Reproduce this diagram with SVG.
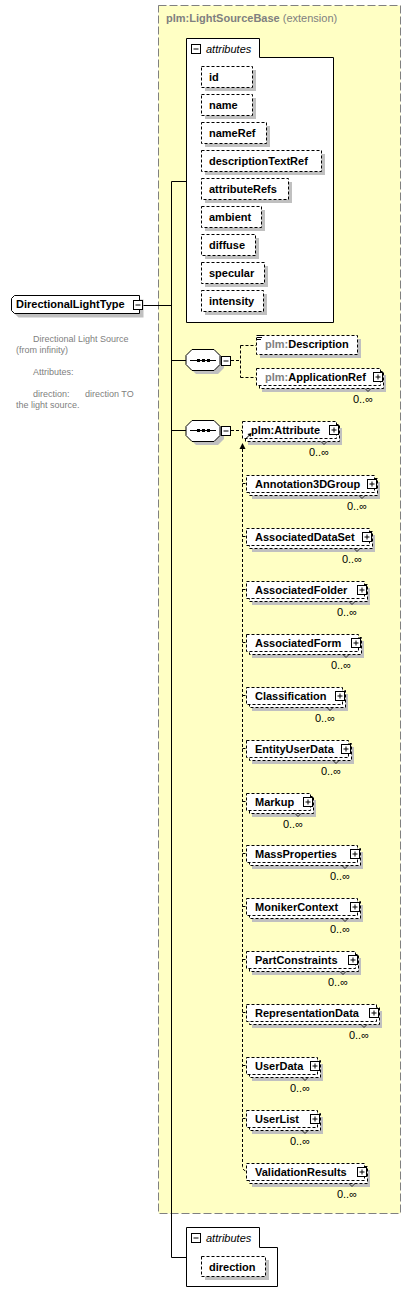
<svg xmlns="http://www.w3.org/2000/svg" width="411" height="1304" viewBox="0 0 411 1304">
<style>
.en{font-family:"Liberation Sans",Arial,sans-serif;font-size:11px;font-weight:bold;fill:#000}
.gr{fill:#808080}
.mu{font-family:"Liberation Sans",Arial,sans-serif;font-size:11px;fill:#000;text-anchor:end}
.doc{font-family:"Liberation Sans",Arial,sans-serif;font-size:9px;fill:#808080}
.it{font-family:"Liberation Sans",Arial,sans-serif;font-size:11px;font-style:italic;fill:#000}
.eb{fill:#fff;stroke:#000;stroke-width:1;stroke-dasharray:3 2}
.sh{fill:#c0c0c0}
.ic{fill:#fff;stroke:#000;stroke-width:1}
.icl{fill:none;stroke:#000;stroke-width:1}
.tk{fill:none;stroke:#000;stroke-width:0.8}
.ln{fill:none;stroke:#000;stroke-width:1}
.dl{fill:none;stroke:#000;stroke-width:1;stroke-dasharray:3 2}
.box{fill:#fff;stroke:#000;stroke-width:1}
</style>
<rect width="411" height="1304" fill="#fff"/>
<g id="extension">
<rect x="158.5" y="5.5" width="242" height="1208" fill="#ffffc4" stroke="#808080" stroke-width="1" stroke-dasharray="8 3"/>
<text x="166" y="22" class="en gr">plm:LightSourceBase <tspan font-weight="normal">(extension)</tspan></text>
</g>
<g id="connectors">
<path class="ln" d="M143 305.5H171.5M171.5 181.5V1257.5M171.5 181.5H186M171.5 360.5H186M171.5 430.5H186M171.5 1257.5H186"/>
<path class="dl" d="M231 360.5H240.5M240.5 345.5V377.5M240.5 345.5H256M240.5 377.5H256M231 430.5H242"/>
<path class="dl" d="M242.5 449V1166Q242.5 1171 247 1171"/>
<polygon points="242.5,443 239.5,449 245.5,449" fill="#000"/>
<path class="dl" d="M242.5 483.5H246M242.5 536.5H246M242.5 589.5H246M242.5 642.5H246M242.5 695.5H246M242.5 748.5H246M242.5 801.5H246M242.5 853.5H246M242.5 906.5H246M242.5 959.5H246M242.5 1012.5H246M242.5 1065.5H246M242.5 1118.5H246"/>
</g>
<g id="DirectionalLightType">
<path d="M18.5 299.5H143.5V317.5H18.5L15.5 314.5V302.5Z" class="sh"/>
<path d="M14.5 295.5H139.5V313.5H14.5L11.5 310.5V298.5Z" class="box"/>
<text x="16" y="308" class="en">DirectionalLightType</text>
<rect class="ic" x="133.5" y="300.5" width="9" height="9"/>
<path class="icl" d="M135.5 305h5"/>
<text class="doc" x="33" y="342">Directional Light Source</text>
<text class="doc" x="16" y="353">(from infinity)</text>
<text class="doc" x="33" y="375">Attributes:</text>
<text class="doc" x="33" y="397">direction:<tspan x="85">direction TO</tspan></text>
<text class="doc" x="16" y="408">the light source.</text>
</g>
<g id="attributes1">
<path class="box" d="M186.5 38.5H259.5V57.5H333.5V322.5H186.5Z"/>
<rect class="ic" x="191.5" y="44.5" width="9" height="9"/>
<path class="icl" d="M193.5 49h5"/>
<text class="it" x="206" y="53">attributes</text>
<rect class="sh" x="205" y="70" width="51" height="21"/><rect class="eb" x="201.5" y="66.5" width="51" height="21"/><text class="en" x="209" y="81">id</text>
<rect class="sh" x="205" y="98" width="51" height="21"/><rect class="eb" x="201.5" y="94.5" width="51" height="21"/><text class="en" x="209" y="109">name</text>
<rect class="sh" x="205" y="126" width="65" height="21"/><rect class="eb" x="201.5" y="122.5" width="65" height="21"/><text class="en" x="209" y="137">nameRef</text>
<rect class="sh" x="205" y="154" width="120" height="21"/><rect class="eb" x="201.5" y="150.5" width="120" height="21"/><text class="en" x="209" y="165">descriptionTextRef</text>
<rect class="sh" x="205" y="182" width="87" height="21"/><rect class="eb" x="201.5" y="178.5" width="87" height="21"/><text class="en" x="209" y="193">attributeRefs</text>
<rect class="sh" x="205" y="210" width="60" height="21"/><rect class="eb" x="201.5" y="206.5" width="60" height="21"/><text class="en" x="209" y="221">ambient</text>
<rect class="sh" x="205" y="238" width="54" height="21"/><rect class="eb" x="201.5" y="234.5" width="54" height="21"/><text class="en" x="209" y="249">diffuse</text>
<rect class="sh" x="205" y="266" width="63" height="21"/><rect class="eb" x="201.5" y="262.5" width="63" height="21"/><text class="en" x="209" y="277">specular</text>
<rect class="sh" x="205" y="294" width="62" height="21"/><rect class="eb" x="201.5" y="290.5" width="62" height="21"/><text class="en" x="209" y="305">intensity</text>
</g>
<g id="sequence1">
<polygon class="sh" points="196,353 218,353 224,359 224,368 218,374 196,374 190,368 190,359"/>
<polygon class="box" points="192,349.5 214,349.5 220,355.5 220,364.5 214,370.5 192,370.5 186,364.5 186,355.5"/>
<path class="ln" d="M190 360.5H216"/>
<rect x="197" y="359" width="3" height="3"/><rect x="202" y="359" width="3" height="3"/><rect x="207" y="359" width="3" height="3"/>
<rect class="ic" x="221.5" y="356.5" width="9" height="9"/>
<path class="icl" d="M223.5 361h5"/>
</g>
<g id="Description">
<rect class="sh" x="260" y="339" width="101" height="19"/>
<rect class="eb" x="256.5" y="335.5" width="101" height="19"/>
<path class="icl" d="M257 335.5h5M257 337.5h5M257 339.5h4"/>
<text class="en" x="265" y="348"><tspan class="gr">plm:</tspan>Description</text>
</g>
<g id="ApplicationRef">
<rect class="sh" x="262" y="375" width="124" height="17"/>
<rect class="eb" x="259.5" y="371.5" width="124" height="17"/>
<rect class="eb" x="256.5" y="368.5" width="124" height="17"/>
<rect class="ic" x="373.5" y="372.5" width="9" height="9"/>
<path class="icl" d="M375.5 377h5M378 374.5v5"/>
<path class="tk" d="M365 388.5l3 3l3 -3"/>
<text class="en" x="265" y="381"><tspan class="gr">plm:</tspan>ApplicationRef</text>
<text class="mu" x="373" y="403">0..∞</text>
</g>
<g id="sequence2">
<polygon class="sh" points="196,424 218,424 224,430 224,439 218,445 196,445 190,439 190,430"/>
<polygon class="box" points="192,420.5 214,420.5 220,426.5 220,435.5 214,441.5 192,441.5 186,435.5 186,426.5"/>
<path class="ln" d="M190 430.5H216"/>
<rect x="197" y="429" width="3" height="3"/><rect x="202" y="429" width="3" height="3"/><rect x="207" y="429" width="3" height="3"/>
<rect class="ic" x="221.5" y="426.5" width="9" height="9"/>
<path class="icl" d="M223.5 431h5"/>
</g>
<g id="Attribute">
<rect class="sh" x="248" y="428" width="94" height="17"/>
<rect class="eb" x="245.5" y="424.5" width="94" height="17"/>
<rect class="eb" x="242.5" y="421.5" width="94" height="17"/>
<rect class="ic" x="329.5" y="425.5" width="9" height="9"/>
<path class="icl" d="M331.5 430h5M334 427.5v5"/>
<path class="tk" d="M321 441.5l3 3l3 -3"/>
<path class="icl" d="M246 438.5L250 434.5"/>
<polygon points="251.5,433 247.5,434 250.5,437" fill="#000"/>
<text class="en" x="251" y="434">plm:Attribute</text>
<text class="mu" x="329" y="456">0..∞</text>
</g>
<g id="Annotation3DGroup">
<rect class="sh" x="252" y="482" width="128" height="17"/><rect class="eb" x="249.5" y="478.5" width="128" height="17"/><rect class="eb" x="246.5" y="475.5" width="128" height="17"/>
<rect class="ic" x="367.5" y="479.5" width="9" height="9"/><path class="icl" d="M369.5 484h5M372 481.5v5"/><path class="tk" d="M359 495.5l3 3l3 -3"/>
<text class="en" x="255" y="488">Annotation3DGroup</text><text class="mu" x="367" y="510">0..∞</text>
</g>
<g id="AssociatedDataSet">
<rect class="sh" x="252" y="535" width="123" height="17"/><rect class="eb" x="249.5" y="531.5" width="123" height="17"/><rect class="eb" x="246.5" y="528.5" width="123" height="17"/>
<rect class="ic" x="362.5" y="532.5" width="9" height="9"/><path class="icl" d="M364.5 537h5M367 534.5v5"/><path class="tk" d="M354 548.5l3 3l3 -3"/>
<text class="en" x="255" y="541">AssociatedDataSet</text><text class="mu" x="362" y="563">0..∞</text>
</g>
<g id="AssociatedFolder">
<rect class="sh" x="252" y="588" width="118" height="17"/><rect class="eb" x="249.5" y="584.5" width="118" height="17"/><rect class="eb" x="246.5" y="581.5" width="118" height="17"/>
<rect class="ic" x="357.5" y="585.5" width="9" height="9"/><path class="icl" d="M359.5 590h5M362 587.5v5"/><path class="tk" d="M349 601.5l3 3l3 -3"/>
<text class="en" x="255" y="594">AssociatedFolder</text><text class="mu" x="357" y="616">0..∞</text>
</g>
<g id="AssociatedForm">
<rect class="sh" x="252" y="641" width="112" height="17"/><rect class="eb" x="249.5" y="637.5" width="112" height="17"/><rect class="eb" x="246.5" y="634.5" width="112" height="17"/>
<rect class="ic" x="351.5" y="638.5" width="9" height="9"/><path class="icl" d="M353.5 643h5M356 640.5v5"/><path class="tk" d="M343 654.5l3 3l3 -3"/>
<text class="en" x="255" y="647">AssociatedForm</text><text class="mu" x="351" y="669">0..∞</text>
</g>
<g id="Classification">
<rect class="sh" x="252" y="694" width="96" height="17"/><rect class="eb" x="249.5" y="690.5" width="96" height="17"/><rect class="eb" x="246.5" y="687.5" width="96" height="17"/>
<rect class="ic" x="335.5" y="691.5" width="9" height="9"/><path class="icl" d="M337.5 696h5M340 693.5v5"/><path class="tk" d="M327 707.5l3 3l3 -3"/>
<text class="en" x="255" y="700">Classification</text><text class="mu" x="335" y="722">0..∞</text>
</g>
<g id="EntityUserData">
<rect class="sh" x="252" y="747" width="102" height="17"/><rect class="eb" x="249.5" y="743.5" width="102" height="17"/><rect class="eb" x="246.5" y="740.5" width="102" height="17"/>
<rect class="ic" x="341.5" y="744.5" width="9" height="9"/><path class="icl" d="M343.5 749h5M346 746.5v5"/><path class="tk" d="M333 760.5l3 3l3 -3"/>
<text class="en" x="255" y="753">EntityUserData</text><text class="mu" x="341" y="775">0..∞</text>
</g>
<g id="Markup">
<rect class="sh" x="252" y="800" width="64" height="17"/><rect class="eb" x="249.5" y="796.5" width="64" height="17"/><rect class="eb" x="246.5" y="793.5" width="64" height="17"/>
<rect class="ic" x="303.5" y="797.5" width="9" height="9"/><path class="icl" d="M305.5 802h5M308 799.5v5"/><path class="tk" d="M295 813.5l3 3l3 -3"/>
<text class="en" x="255" y="806">Markup</text><text class="mu" x="303" y="828">0..∞</text>
</g>
<g id="MassProperties">
<rect class="sh" x="252" y="852" width="111" height="17"/><rect class="eb" x="249.5" y="848.5" width="111" height="17"/><rect class="eb" x="246.5" y="845.5" width="111" height="17"/>
<rect class="ic" x="350.5" y="849.5" width="9" height="9"/><path class="icl" d="M352.5 854h5M355 851.5v5"/><path class="tk" d="M342 865.5l3 3l3 -3"/>
<text class="en" x="255" y="858">MassProperties</text><text class="mu" x="350" y="880">0..∞</text>
</g>
<g id="MonikerContext">
<rect class="sh" x="252" y="905" width="111" height="17"/><rect class="eb" x="249.5" y="901.5" width="111" height="17"/><rect class="eb" x="246.5" y="898.5" width="111" height="17"/>
<rect class="ic" x="350.5" y="902.5" width="9" height="9"/><path class="icl" d="M352.5 907h5M355 904.5v5"/><path class="tk" d="M342 918.5l3 3l3 -3"/>
<text class="en" x="255" y="911">MonikerContext</text><text class="mu" x="350" y="933">0..∞</text>
</g>
<g id="PartConstraints">
<rect class="sh" x="252" y="958" width="109" height="17"/><rect class="eb" x="249.5" y="954.5" width="109" height="17"/><rect class="eb" x="246.5" y="951.5" width="109" height="17"/>
<rect class="ic" x="348.5" y="955.5" width="9" height="9"/><path class="icl" d="M350.5 960h5M353 957.5v5"/><path class="tk" d="M340 971.5l3 3l3 -3"/>
<text class="en" x="255" y="964">PartConstraints</text><text class="mu" x="348" y="986">0..∞</text>
</g>
<g id="RepresentationData">
<rect class="sh" x="252" y="1011" width="130" height="17"/><rect class="eb" x="249.5" y="1007.5" width="130" height="17"/><rect class="eb" x="246.5" y="1004.5" width="130" height="17"/>
<rect class="ic" x="369.5" y="1008.5" width="9" height="9"/><path class="icl" d="M371.5 1013h5M374 1010.5v5"/><path class="tk" d="M361 1024.5l3 3l3 -3"/>
<text class="en" x="255" y="1017">RepresentationData</text><text class="mu" x="369" y="1039">0..∞</text>
</g>
<g id="UserData">
<rect class="sh" x="252" y="1064" width="71" height="17"/><rect class="eb" x="249.5" y="1060.5" width="71" height="17"/><rect class="eb" x="246.5" y="1057.5" width="71" height="17"/>
<rect class="ic" x="310.5" y="1061.5" width="9" height="9"/><path class="icl" d="M312.5 1066h5M315 1063.5v5"/><path class="tk" d="M302 1077.5l3 3l3 -3"/>
<text class="en" x="255" y="1070">UserData</text><text class="mu" x="310" y="1092">0..∞</text>
</g>
<g id="UserList">
<rect class="sh" x="252" y="1117" width="71" height="17"/><rect class="eb" x="249.5" y="1113.5" width="71" height="17"/><rect class="eb" x="246.5" y="1110.5" width="71" height="17"/>
<rect class="ic" x="310.5" y="1114.5" width="9" height="9"/><path class="icl" d="M312.5 1119h5M315 1116.5v5"/><path class="tk" d="M302 1130.5l3 3l3 -3"/>
<text class="en" x="255" y="1123">UserList</text><text class="mu" x="310" y="1145">0..∞</text>
</g>
<g id="ValidationResults">
<rect class="sh" x="252" y="1170" width="118" height="17"/><rect class="eb" x="249.5" y="1166.5" width="118" height="17"/><rect class="eb" x="246.5" y="1163.5" width="118" height="17"/>
<rect class="ic" x="357.5" y="1167.5" width="9" height="9"/><path class="icl" d="M359.5 1172h5M362 1169.5v5"/><path class="tk" d="M349 1183.5l3 3l3 -3"/>
<text class="en" x="255" y="1176">ValidationResults</text><text class="mu" x="357" y="1198">0..∞</text>
</g>
<g id="attributes2">
<path class="box" d="M186.5 1227.5H259.5V1247.5H277.5V1286.5H186.5Z"/>
<rect class="ic" x="191.5" y="1233.5" width="9" height="9"/>
<path class="icl" d="M193.5 1238h5"/>
<text class="it" x="206" y="1242">attributes</text>
<rect class="sh" x="205" y="1260" width="64" height="20"/><rect class="eb" x="201.5" y="1256.5" width="64" height="20"/><text class="en" x="209" y="1271">direction</text>
</g>
</svg>
